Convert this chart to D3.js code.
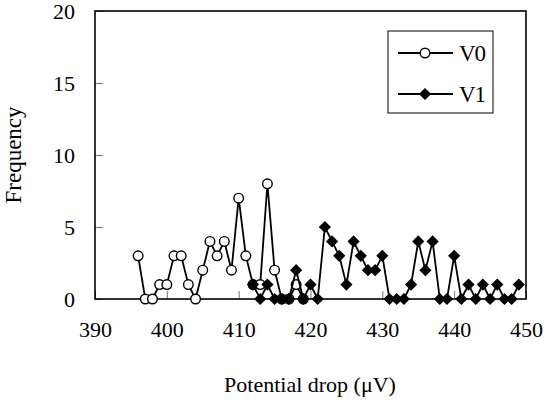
<!DOCTYPE html>
<html>
<head>
<meta charset="utf-8">
<script src="https://cdn.jsdelivr.net/npm/d3@7"></script>
<style>
  body { margin: 0; background: #fff; }
</style>
</head>
<body>
<div id="chart"></div>
<script>
// potential drop (uV) vs frequency, two series
var v0Drop = [396, 397, 398, 399, 400, 401, 402, 403, 404, 405, 406, 407, 408, 409, 410, 411, 412, 413, 414, 415, 416, 417, 418, 419];
var v0Freq = [3, 0, 0, 1, 1, 3, 3, 1, 0, 2, 4, 3, 4, 2, 7, 3, 1, 1, 8, 2, 0, 0, 1, 0];

var v1Drop = [412, 413, 414, 415, 416, 417, 418, 419, 420, 421, 422, 423, 424, 425, 426, 427, 428, 429, 430, 431, 432, 433, 434, 435, 436, 437, 438, 439, 440, 441, 442, 443, 444, 445, 446, 447, 448, 449];
var v1Freq = [1, 0, 1, 0, 0, 0, 2, 0, 1, 0, 5, 4, 3, 1, 4, 3, 2, 2, 3, 0, 0, 0, 1, 4, 2, 4, 0, 0, 3, 0, 1, 0, 1, 0, 1, 0, 0, 1];

var xTicks = [390, 400, 410, 420, 430, 440, 450];
var yTicks = [0, 5, 10, 15, 20];
var seriesNames = ["V0", "V1"];

var FONT = "'Liberation Serif', 'Times New Roman', serif";
var width = 544, height = 402;
var plot = { left: 95, top: 11, right: 526, bottom: 299 };

var svg = d3.select("#chart").append("svg")
  .attr("width", width)
  .attr("height", height)
  .attr("font-family", FONT);

var x = d3.scaleLinear().domain([390, 450]).range([plot.left, plot.right]);
var y = d3.scaleLinear().domain([0, 20]).range([plot.bottom, plot.top]);

// axes with inward ticks
var xAxis = svg.append("g")
  .attr("transform", "translate(0," + plot.bottom + ")")
  .call(d3.axisBottom(x).tickValues(xTicks).tickSizeInner(-8).tickSizeOuter(0).tickPadding(22));
var yAxis = svg.append("g")
  .attr("transform", "translate(" + plot.left + ",0)")
  .call(d3.axisLeft(y).tickValues(yTicks).tickSizeInner(-8).tickSizeOuter(0).tickPadding(20));

[xAxis, yAxis].forEach(function (g) {
  g.attr("font-family", FONT).attr("font-size", 22);
  g.select(".domain").remove();
  g.selectAll(".tick line").attr("stroke", "#777").attr("stroke-width", 1);
  g.selectAll(".tick text").attr("fill", "#000");
});

// frame
svg.append("rect")
  .attr("x", plot.left)
  .attr("y", plot.top)
  .attr("width", plot.right - plot.left)
  .attr("height", plot.bottom - plot.top)
  .attr("fill", "none")
  .attr("stroke", "#000")
  .attr("stroke-width", 1.6);

// axis titles
svg.append("text")
  .attr("x", 310)
  .attr("y", 392)
  .attr("text-anchor", "middle")
  .attr("font-size", 22)
  .text("Potential drop  (\u03BCV)");

svg.append("text")
  .attr("transform", "translate(21,155) rotate(-90)")
  .attr("text-anchor", "middle")
  .attr("font-size", 23)
  .text("Frequency");

var line = d3.line()
  .x(function (d) { return x(d[0]); })
  .y(function (d) { return y(d[1]); });

var diamond = d3.symbol().type(d3.symbolDiamond2).size(95);

function drawSeries(drop, freq, marker) {
  var pts = drop.map(function (d, i) { return [d, freq[i]]; });
  svg.append("path")
    .datum(pts)
    .attr("fill", "none")
    .attr("stroke", "#000")
    .attr("stroke-width", 1.8)
    .attr("d", line);

  if (marker === "circle") {
    svg.append("g").selectAll("circle")
      .data(pts).enter().append("circle")
      .attr("cx", function (d) { return x(d[0]); })
      .attr("cy", function (d) { return y(d[1]); })
      .attr("r", 4.8)
      .attr("fill", "#fff")
      .attr("stroke", "#000")
      .attr("stroke-width", 1.4);
  } else {
    svg.append("g").selectAll("path")
      .data(pts).enter().append("path")
      .attr("transform", function (d) { return "translate(" + x(d[0]) + "," + y(d[1]) + ")"; })
      .attr("d", diamond)
      .attr("fill", "#000");
  }
}

drawSeries(v0Drop, v0Freq, "circle");
drawSeries(v1Drop, v1Freq, "diamond");

// legend
var legend = svg.append("g");
legend.append("rect")
  .attr("x", 388).attr("y", 31)
  .attr("width", 105).attr("height", 82)
  .attr("fill", "#fff")
  .attr("stroke", "#000")
  .attr("stroke-width", 1);

var legendRows = [53, 94];
legendRows.forEach(function (ly, i) {
  legend.append("line")
    .attr("x1", 398).attr("x2", 453)
    .attr("y1", ly).attr("y2", ly)
    .attr("stroke", "#000")
    .attr("stroke-width", 1.8);
  if (i === 0) {
    legend.append("circle")
      .attr("cx", 425).attr("cy", ly).attr("r", 4.8)
      .attr("fill", "#fff").attr("stroke", "#000").attr("stroke-width", 1.4);
  } else {
    legend.append("path")
      .attr("transform", "translate(425," + ly + ")")
      .attr("d", diamond)
      .attr("fill", "#000");
  }
  legend.append("text")
    .attr("x", 459)
    .attr("y", ly + 8)
    .attr("font-size", 23)
    .attr("letter-spacing", -1)
    .text(seriesNames[i]);
});
</script>
</body>
</html>
